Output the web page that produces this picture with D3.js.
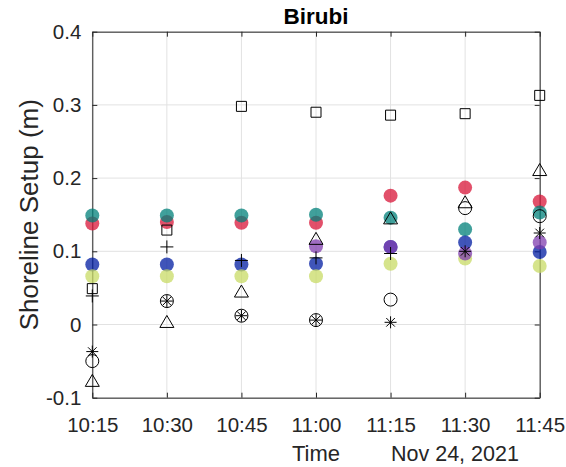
<!DOCTYPE html>
<html>
<head>
<meta charset="utf-8">
<script src="https://cdn.jsdelivr.net/npm/d3@7"></script>
<style>
  html, body { margin: 0; padding: 0; background: #fff; }
  svg { display: block; font-family: "Liberation Sans", Arial, sans-serif; }
</style>
</head>
<body>
<svg id="chart" width="566" height="467"></svg>
<script>
// Sampling times (Nov 24, 2021), 15-minute intervals
const times = ["10:15", "10:30", "10:45", "11:00", "11:15", "11:30", "11:45"];

// Filled-circle series (shoreline setup, m)
const redVals    = [0.138, 0.140, 0.139, 0.139, 0.176, 0.187, 0.168];
const tealVals   = [0.149, 0.149, 0.149, 0.150, 0.146, 0.130, 0.153];
const blueVals   = [0.082, 0.082, 0.082, 0.083, 0.106, 0.112, 0.099];
const greenVals  = [0.066, 0.066, 0.066, 0.066, 0.083, 0.090, 0.080];
const purpleVals = [null, null, null, 0.107, 0.106, 0.097, 0.112];

// Open-marker series
const squareVals   = [0.049, 0.129, 0.298, 0.290, 0.286, 0.288, 0.313];
const plusVals     = [0.039, 0.106, 0.0875, 0.091, 0.097, null, null];
const triangleVals = [-0.077, 0.0035, 0.045, 0.117, 0.145, 0.167, 0.211];
const circleVals   = [-0.050, 0.032, 0.012, 0.006, 0.034, 0.159, 0.148];
const starVals     = [-0.037, 0.032, 0.012, 0.006, 0.003, 0.100, 0.125];

const yTicks = [-0.1, 0, 0.1, 0.2, 0.3, 0.4];

const W = 566, H = 467;
const margin = { top: 31.7, right: 26.3, bottom: 69.3, left: 92.3 };
const iw = W - margin.left - margin.right;
const ih = H - margin.top - margin.bottom;

const parseT = s => new Date(2021, 10, 24, +s.split(":")[0], +s.split(":")[1]);
const tDates = times.map(parseT);

const x = d3.scaleTime().domain([tDates[0], tDates[tDates.length - 1]]).range([0, iw]);
const y = d3.scaleLinear().domain([-0.1, 0.4]).range([ih, 0]);

const svg = d3.select("#chart");
const g = svg.append("g").attr("transform", `translate(${margin.left},${margin.top})`);

const axisCol = "#262626";
const gridCol = "#e2e2e2";
const tickFont = "20.5px";

// Grid
g.append("g").selectAll("line.vg").data(tDates).join("line")
  .attr("x1", d => x(d)).attr("x2", d => x(d)).attr("y1", 0).attr("y2", ih)
  .attr("stroke", gridCol).attr("stroke-width", 1);
g.append("g").selectAll("line.hg").data(yTicks).join("line")
  .attr("x1", 0).attr("x2", iw).attr("y1", d => y(d)).attr("y2", d => y(d))
  .attr("stroke", gridCol).attr("stroke-width", 1);

// Axes with inward ticks on all four sides
const fmtY = d => d === 0 ? "0" : (d < 0 ? "-" : "") + Math.abs(d).toFixed(1);
const fmtX = d3.timeFormat("%H:%M");

const xb = g.append("g").attr("transform", `translate(0,${ih})`)
  .call(d3.axisBottom(x).tickValues(tDates).tickFormat(fmtX).tickSizeInner(-5).tickSizeOuter(0).tickPadding(20));
const xt = g.append("g")
  .call(d3.axisTop(x).tickValues(tDates).tickFormat("").tickSizeInner(-5).tickSizeOuter(0));
const yl = g.append("g")
  .call(d3.axisLeft(y).tickValues(yTicks).tickFormat(fmtY).tickSizeInner(-5).tickSizeOuter(0).tickPadding(11));
const yr = g.append("g").attr("transform", `translate(${iw},0)`)
  .call(d3.axisRight(y).tickValues(yTicks).tickFormat("").tickSizeInner(-5).tickSizeOuter(0));

[xb, xt, yl, yr].forEach(a => {
  a.selectAll("path.domain").attr("stroke", axisCol).attr("stroke-width", 1);
  a.selectAll(".tick line").attr("stroke", axisCol).attr("stroke-width", 1);
  a.selectAll(".tick text").attr("fill", axisCol).style("font-size", tickFont)
    .style("font-family", "'Liberation Sans', Arial, sans-serif");
});

// Filled circle series
const dotSeries = [
  { vals: redVals,    color: "rgb(216,22,56)" },
  { vals: tealVals,   color: "rgb(0,128,122)" },
  { vals: blueVals,   color: "rgb(0,28,162)" },
  { vals: greenVals,  color: "rgb(200,219,102)" },
  { vals: purpleVals, color: "rgb(128,62,175)" }
];
const pts = vals => vals.map((v, i) => ({ t: tDates[i], v })).filter(d => d.v !== null);

dotSeries.forEach(s => {
  g.append("g").selectAll("circle").data(pts(s.vals)).join("circle")
    .attr("cx", d => x(d.t)).attr("cy", d => y(d.v)).attr("r", 7)
    .attr("fill", s.color).attr("fill-opacity", 0.75);
});

// Open marker shapes
const shapes = {
  square: "M-5,-5H5V5H-5Z",
  plus: "M-6.5,0H6.5M0,-6.5V6.5",
  triangle: "M0,-6.5L7,5.5H-7Z",
  circle: "M6.5,0A6.5,6.5 0 1,1 -6.5,0A6.5,6.5 0 1,1 6.5,0Z",
  star: "M-6,0H6M0,-6V6M-4.3,-4.3L4.3,4.3M-4.3,4.3L4.3,-4.3"
};
const openSeries = [
  { vals: squareVals,   shape: "square" },
  { vals: plusVals,     shape: "plus" },
  { vals: triangleVals, shape: "triangle" },
  { vals: circleVals,   shape: "circle" },
  { vals: starVals,     shape: "star" }
];
openSeries.forEach(s => {
  g.append("g").selectAll("path").data(pts(s.vals)).join("path")
    .attr("transform", d => `translate(${x(d.t)},${y(d.v)})`)
    .attr("d", shapes[s.shape])
    .attr("fill", "none").attr("stroke", "#000").attr("stroke-width", 1);
});

// Title and labels
svg.append("text").attr("x", margin.left + iw / 2).attr("y", 24)
  .attr("text-anchor", "middle").attr("fill", "#000")
  .style("font-size", "22.5px").style("font-weight", "bold").text("Birubi");

svg.append("text").attr("x", margin.left + iw / 2).attr("y", 461)
  .attr("text-anchor", "middle").attr("fill", axisCol)
  .style("font-size", "22px").text("Time");

svg.append("text").attr("x", 391).attr("y", 461)
  .attr("text-anchor", "start").attr("fill", axisCol)
  .style("font-size", "21.5px").text("Nov 24, 2021");

svg.append("text")
  .attr("transform", `translate(38,${margin.top + ih / 2}) rotate(-90)`)
  .attr("text-anchor", "middle").attr("fill", axisCol)
  .style("font-size", "26px").text("Shoreline Setup (m)");
</script>
</body>
</html>
